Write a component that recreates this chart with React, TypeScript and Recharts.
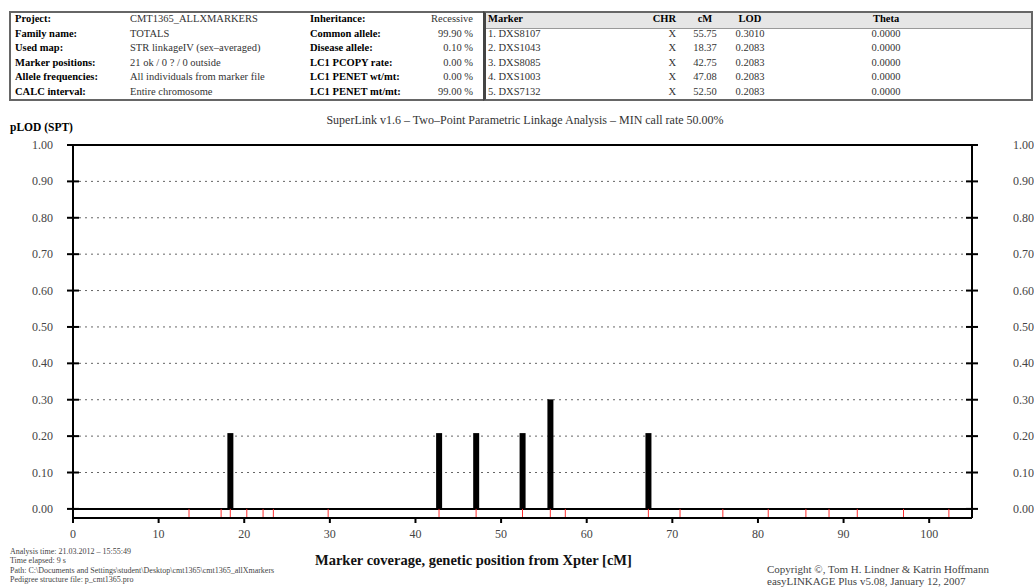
import React from "react";
import {
  ComposedChart,
  Bar,
  XAxis,
  YAxis,
  CartesianGrid,
  ReferenceLine,
} from "recharts";

// ---- data ----
const infoLabels1 = ["Project:", "Family name:", "Used map:", "Marker positions:", "Allele frequencies:", "CALC interval:"];
const infoValues1 = ["CMT1365_ALLXMARKERS", "TOTALS", "STR linkageIV (sex–averaged)", "21 ok / 0 ? / 0 outside", "All individuals from marker file", "Entire chromosome"];
const infoLabels2 = ["Inheritance:", "Common allele:", "Disease allele:", "LC1 PCOPY rate:", "LC1 PENET wt/mt:", "LC1 PENET mt/mt:"];
const infoValues2 = ["Recessive", "99.90 %", "0.10 %", "0.00 %", "0.00 %", "99.00 %"];

const topMarkers = ["1. DXS8107", "2. DXS1043", "3. DXS8085", "4. DXS1003", "5. DXS7132"];
const topChr = ["X", "X", "X", "X", "X"];
const topCm = ["55.75", "18.37", "42.75", "47.08", "52.50"];
const topLod = ["0.3010", "0.2083", "0.2083", "0.2083", "0.2083"];
const topTheta = ["0.0000", "0.0000", "0.0000", "0.0000", "0.0000"];

const markerPositions = [13.55, 17.3, 18.37, 20.3, 22.2, 23.4, 29.8, 42.75, 47.08, 52.5, 55.75, 57.5, 67.2, 70.9, 75.9, 81.2, 85.6, 88.3, 91.6, 97.0, 102.3];
const barPositions = [18.37, 42.75, 47.08, 52.5, 55.75, 67.2];
const barLods = [0.2083, 0.2083, 0.2083, 0.2083, 0.301, 0.2083];

const yTicks = [0, 0.1, 0.2, 0.3, 0.4, 0.5, 0.6, 0.7, 0.8, 0.9, 1.0];
const xTicks = [0, 10, 20, 30, 40, 50, 60, 70, 80, 90, 100];

const footerLines = [
  "Analysis time: 21.03.2012 – 15:55:49",
  "Time elapsed:  9 s",
  "Path: C:\\Documents and Settings\\student\\Desktop\\cmt1365\\cmt1365_allXmarkers",
  "Pedigree structure file: p_cmt1365.pro",
];

const chartData = barPositions.map((cM, i) => ({ cM, lod: barLods[i] }));

const SERIF = "'Liberation Serif', 'DejaVu Serif', serif";

const LeftTick = (props: any) => {
  const { x, y, payload } = props;
  return (
    <g>
      <line x1={x - 6} x2={x + 6} y1={y} y2={y} stroke="#000" strokeWidth={2} />
      <text x={x - 20} y={y} dy={4} textAnchor="end" fontSize={12} fill="#444" fontFamily={SERIF}>
        {Number(payload.value).toFixed(2)}
      </text>
    </g>
  );
};

const RightTick = (props: any) => {
  const { x, y, payload } = props;
  return (
    <g>
      <line x1={x - 6} x2={x + 6} y1={y} y2={y} stroke="#000" strokeWidth={2} />
      <text x={x + 41} y={y} dy={4} textAnchor="start" fontSize={12} fill="#444" fontFamily={SERIF}>
        {Number(payload.value).toFixed(2)}
      </text>
    </g>
  );
};

const rowH = 14.5;

export default function App() {
  const cell: React.CSSProperties = {
    position: "absolute",
    fontFamily: SERIF,
    fontSize: 10.5,
    lineHeight: `${rowH}px`,
    whiteSpace: "nowrap",
    color: "#333",
  };
  return (
    <div style={{ position: "absolute", left: 0, top: 0, width: 1034, height: 587, background: "#fff", overflow: "hidden" }}>
      {/* info table */}
      <div style={{ position: "absolute", left: 9, top: 11, width: 472, height: 86, border: "2px solid #666", boxSizing: "content-box" }} />
      {infoLabels1.map((t, i) => (
        <div key={"l1" + i} style={{ ...cell, left: 15, top: 12 + i * rowH, fontWeight: "bold", color: "#000" }}>{t}</div>
      ))}
      {infoValues1.map((t, i) => (
        <div key={"v1" + i} style={{ ...cell, left: 130, top: 12 + i * rowH }}>{t}</div>
      ))}
      {infoLabels2.map((t, i) => (
        <div key={"l2" + i} style={{ ...cell, left: 310, top: 12 + i * rowH, fontWeight: "bold", color: "#000" }}>{t}</div>
      ))}
      {infoValues2.map((t, i) => (
        <div key={"v2" + i} style={{ ...cell, left: 400, width: 73, textAlign: "right", top: 12 + i * rowH }}>{t}</div>
      ))}

      {/* marker table */}
      <div style={{ position: "absolute", left: 483, top: 11, width: 545, height: 86, border: "2px solid #666", borderLeft: "3px solid #444" }} />
      <div style={{ position: "absolute", left: 486, top: 13, width: 545, height: rowH, background: "#e6e6e6", borderBottom: "1px solid #999" }} />
      <div style={{ ...cell, left: 488, top: 12, fontWeight: "bold", color: "#000" }}>Marker</div>
      <div style={{ ...cell, left: 640, width: 36, textAlign: "right", top: 12, fontWeight: "bold", color: "#000" }}>CHR</div>
      <div style={{ ...cell, left: 690, width: 30, textAlign: "center", top: 12, fontWeight: "bold", color: "#000" }}>cM</div>
      <div style={{ ...cell, left: 735, width: 30, textAlign: "center", top: 12, fontWeight: "bold", color: "#000" }}>LOD</div>
      <div style={{ ...cell, left: 866, width: 40, textAlign: "center", top: 12, fontWeight: "bold", color: "#000" }}>Theta</div>
      {topMarkers.map((t, i) => (
        <React.Fragment key={"m" + i}>
          <div style={{ ...cell, left: 488, top: 12 + (i + 1) * rowH }}>{t}</div>
          <div style={{ ...cell, left: 640, width: 36, textAlign: "right", top: 12 + (i + 1) * rowH }}>{topChr[i]}</div>
          <div style={{ ...cell, left: 690, width: 30, textAlign: "center", top: 12 + (i + 1) * rowH }}>{topCm[i]}</div>
          <div style={{ ...cell, left: 735, width: 30, textAlign: "center", top: 12 + (i + 1) * rowH }}>{topLod[i]}</div>
          <div style={{ ...cell, left: 866, width: 40, textAlign: "center", top: 12 + (i + 1) * rowH }}>{topTheta[i]}</div>
        </React.Fragment>
      ))}

      {/* titles */}
      <div style={{ ...cell, left: 10, top: 120, fontSize: 11.5, fontWeight: "bold", color: "#000" }}>pLOD (SPT)</div>
      <div style={{ ...cell, left: 0, width: 1050, textAlign: "center", top: 113, fontSize: 12 }}>
        SuperLink v1.6 – Two–Point Parametric Linkage Analysis – MIN call rate 50.00%
      </div>

      <div style={{ position: "absolute", left: 0, top: 0 }}>
        <ComposedChart
          width={1034}
          height={587}
          data={chartData}
          margin={{ top: 145, right: 12, bottom: 39, left: 13 }}
        >
          <CartesianGrid horizontal vertical={false} stroke="#666" strokeDasharray="2 4" yAxisId="left" />
          <XAxis
            type="number"
            dataKey="cM"
            domain={[0, 105]}
            ticks={xTicks}
            allowDataOverflow
            height={30}
            stroke="#000"
            strokeWidth={2}
            tickSize={5}
            tickMargin={6}
            tick={{ fontSize: 12, fill: "#444", fontFamily: SERIF }}
            tickLine={{ stroke: "#000", strokeWidth: 2 }}
          />
          <YAxis
            yAxisId="left"
            domain={[-0.025, 1]}
            ticks={yTicks}
            allowDataOverflow
            width={60}
            stroke="#000"
            strokeWidth={2}
            tickSize={0}
            tickMargin={0}
            tick={<LeftTick />}
            tickLine={false}
          />
          <YAxis
            yAxisId="right"
            orientation="right"
            domain={[-0.025, 1]}
            ticks={yTicks}
            allowDataOverflow
            width={50}
            stroke="#000"
            strokeWidth={2}
            tickSize={0}
            tickMargin={0}
            tick={<RightTick />}
            tickLine={false}
          />
          <ReferenceLine yAxisId="left" y={1} stroke="#000" strokeWidth={2} />
          <ReferenceLine yAxisId="left" y={0} stroke="#000" strokeWidth={2} />
          {markerPositions.map((p, i) => (
            <ReferenceLine
              key={"mk" + i}
              yAxisId="left"
              segment={[{ x: p, y: 0 }, { x: p, y: -0.025 }]}
              stroke="#ff3030"
              strokeWidth={1}
            />
          ))}
          <Bar yAxisId="left" dataKey="lod" fill="#000" barSize={6} isAnimationActive={false} />
        </ComposedChart>
      </div>

      {/* footer */}
      {footerLines.map((t, i) => (
        <div key={"f" + i} style={{ ...cell, left: 10, top: 547 + i * 9.3, fontSize: 8, lineHeight: "9px", color: "#444" }}>{t}</div>
      ))}
      <div style={{ ...cell, left: 315, top: 552, fontSize: 14.5, fontWeight: "bold", color: "#111", lineHeight: "16px" }}>
        Marker coverage, genetic position from Xpter [cM]
      </div>
      <div style={{ ...cell, left: 767, top: 563, fontSize: 11, lineHeight: "13px", color: "#444" }}>
        Copyright ©, Tom H. Lindner &amp; Katrin Hoffmann
      </div>
      <div style={{ ...cell, left: 767, top: 575, fontSize: 11, lineHeight: "12px", color: "#444" }}>
        easyLINKAGE Plus v5.08, January 12, 2007
      </div>
    </div>
  );
}
